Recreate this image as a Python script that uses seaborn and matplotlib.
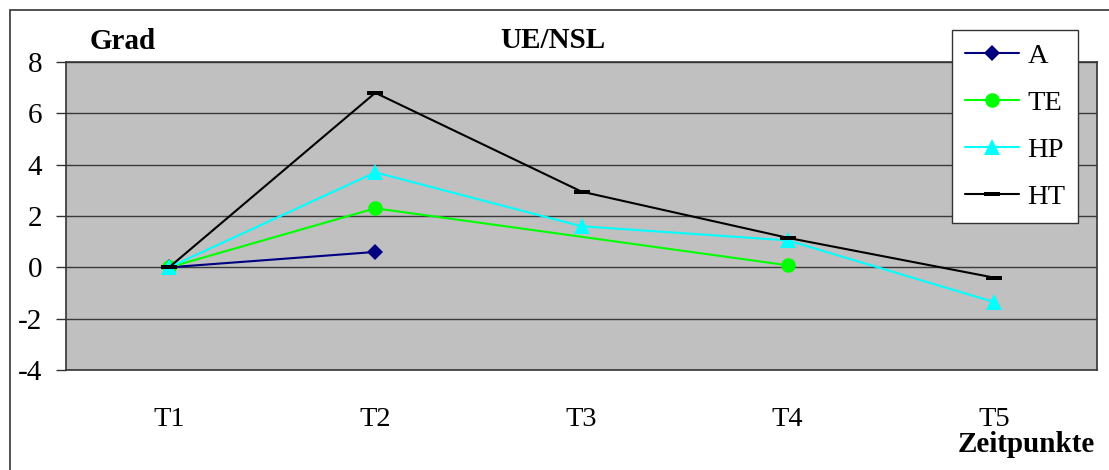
import numpy as np
import pandas as pd
import matplotlib
matplotlib.use("Agg")
import matplotlib.pyplot as plt
import seaborn as sns
from matplotlib.patches import Rectangle

# categories and values (None = no point)
zeitpunkte = ["T1", "T2", "T3", "T4", "T5"]
series_names = ["A", "TE", "HP", "HT"]
a_vals = [0.0, 0.6, None, None, None]
te_vals = [0.0, 2.3, None, 0.08, None]
hp_vals = [0.0, 3.7, 1.6, 1.05, -1.35]
ht_vals = [0.0, 6.8, 2.95, 1.15, -0.4]
y_ticks = [-4, -2, 0, 2, 4, 6, 8]

sns.set_style("white")
plt.rcParams["font.family"] = ["Liberation Serif", "DejaVu Serif"]
plt.rcParams["text.color"] = "black"
plt.rcParams["xtick.color"] = "black"
plt.rcParams["ytick.color"] = "black"

# long table, x as category position so gaps keep their place
rows = []
for name, vals in zip(series_names, [a_vals, te_vals, hp_vals, ht_vals]):
    for i, v in enumerate(vals):
        if v is not None:
            rows.append({"serie": name, "pos": i, "wert": v})
df = pd.DataFrame(rows)

styles = {
    "A": dict(color="#000080", marker="D", markersize=8.5),
    "TE": dict(color="#00FF00", marker="o", markersize=10.5),
    "HP": dict(color="#00FFFF", marker="^", markersize=11.5),
    "HT": dict(color="#000000", marker=[(-1.6, -0.5), (1.6, -0.5), (1.6, 0.5), (-1.6, 0.5)], markersize=11.5),
}

fig = plt.figure(figsize=(11.09, 4.70), dpi=100)
ax = fig.add_axes([66 / 1109, 1 - 370 / 470, (1097 - 66) / 1109, (370 - 62) / 470])
ax.set_facecolor("#C0C0C0")

for name in series_names:
    d = df[df["serie"] == name]
    st = styles[name]
    sns.lineplot(data=d, x="pos", y="wert", ax=ax, color=st["color"], marker=st["marker"],
                 markersize=st["markersize"], markeredgewidth=0, linewidth=1.5, label=name,
                 zorder=3)

ax.set_xlim(-0.5, len(zeitpunkte) - 0.5)
ax.set_ylim(-4, 8)
ax.set_xticks(range(len(zeitpunkte)))
ax.set_xticklabels(zeitpunkte)
ax.set_yticks(y_ticks)
ax.set_yticklabels([str(t) for t in y_ticks])
ax.set_xlabel("")
ax.set_ylabel("")
ax.tick_params(axis="x", length=0, pad=27, labelsize=20.5, labelcolor="black")
ax.tick_params(axis="y", length=7, width=1, color="#333333", pad=10, labelsize=21,
               labelcolor="black", direction="out", left=True)
ax.yaxis.grid(True, color="#3a3a3a", linewidth=1)
ax.xaxis.grid(False)
ax.set_axisbelow(True)
for s in ax.spines.values():
    s.set_color("#333333")
    s.set_linewidth(1.2)

leg = ax.legend(loc="upper left", bbox_to_anchor=(952 / 1109, 1 - 30 / 470),
                bbox_transform=fig.transFigure, borderaxespad=0, fontsize=20.5,
                frameon=True, fancybox=False, framealpha=1, edgecolor="#333333",
                handlelength=1.9, labelspacing=0.74, borderpad=0.45, handletextpad=0.3)
leg.get_frame().set_linewidth(1)
leg.set_zorder(10)
for t in leg.get_texts():
    t.set_color("black")

fig.text(90 / 1109, 1 - 49 / 470, "Grad", fontsize=21, fontweight="bold", va="baseline", ha="left")
fig.text(553 / 1109, 1 - 48 / 470, "UE/NSL", fontsize=21, fontweight="bold", va="baseline", ha="center")
fig.text(958 / 1109, 1 - 452 / 470, "Zeitpunkte", fontsize=21, fontweight="bold", va="baseline", ha="left")

# outer chart frame (cut off at right and bottom like the source)
fig.patches.append(Rectangle((10 / 1109, -0.2), 1.2, 1.2 - 10 / 470, transform=fig.transFigure,
                             fill=False, edgecolor="#333333", linewidth=1.2, clip_on=False))

fig.savefig("out.png", dpi=100)
